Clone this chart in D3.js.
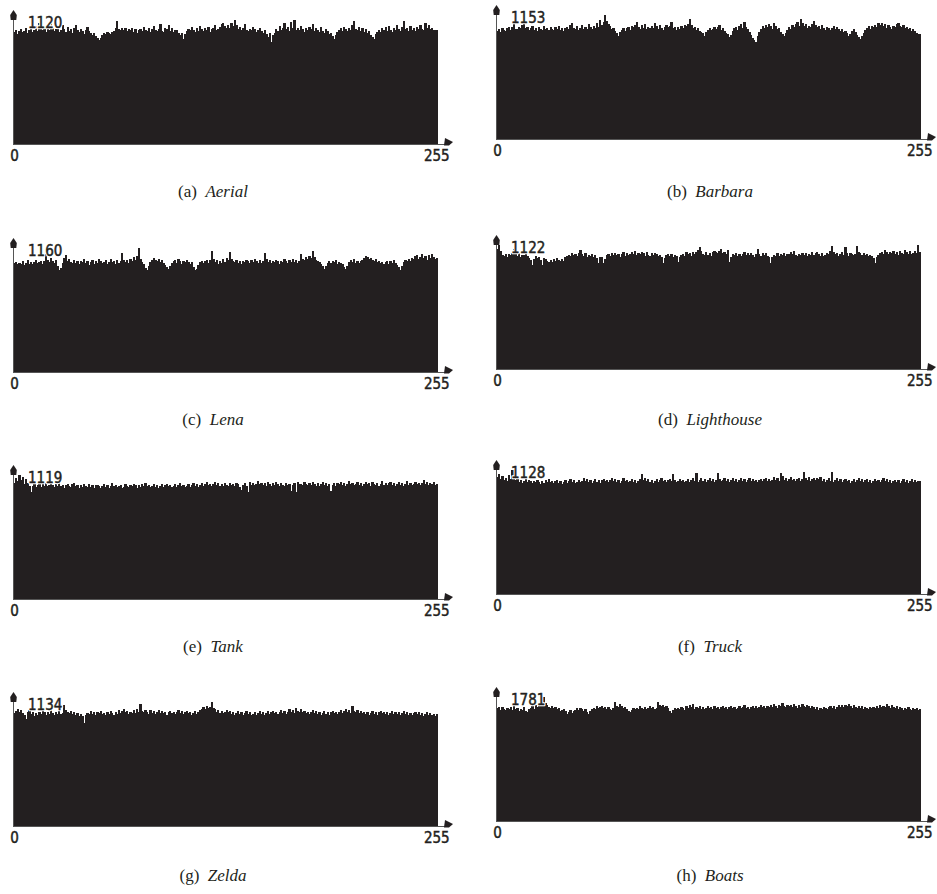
<!DOCTYPE html>
<html>
<head>
<meta charset="utf-8">
<script src="https://cdn.jsdelivr.net/npm/d3@7/dist/d3.min.js"></script>
<style>
  html, body { margin: 0; padding: 0; background: #fff; }
  svg { display: block; }
</style>
</head>
<body>
<svg id="chart" width="937" height="894"></svg>
<script>
// Grey-level histograms (256 bins) of the eight cipher images.
const panelLetters = ["a", "b", "c", "d", "e", "f", "g", "h"];
const imageNames = ["Aerial", "Barbara", "Lena", "Lighthouse", "Tank", "Truck", "Zelda", "Boats"];
const xTickLabels = ["0", "255"];

const aerial = [
  1012,1031,998,1024,1041,1008,1019,1052,1003,1027,1046,1015,1033,1068,1021,1094,
  1038,1026,1057,1012,1049,1030,1101,1044,1018,1035,1061,1009,1028,1072,1040,1016,
  1055,1023,1037,1003,1046,1079,1029,1011,1043,1025,996,1034,1058,1019,1007,988,
  1002,975,961,938,958,984,1006,997,1015,1003,992,1011,1024,1046,1114,1038,
  1029,1044,1033,1051,1022,1039,1026,1048,1015,1036,1003,1027,1043,1018,1059,1031,
  1024,1047,1012,1038,1066,1029,1017,1041,1083,1025,1009,1052,1036,1071,1020,1045,
  1013,1034,1028,1005,987,1001,947,990,1017,1042,1026,1054,1031,1009,1048,1023,
  1064,1037,1019,1045,1028,1057,1011,1035,1048,1072,1026,1042,1059,1083,1097,1068,
  1052,1076,1044,1089,1063,1118,1071,1035,1054,1026,1047,1082,1031,1019,1043,1028,
  1056,1038,1012,1027,1049,1021,1007,1034,995,968,1004,921,986,1003,1041,1017,
  1062,1029,1048,1093,1037,1058,1025,1104,1046,1120,1033,1051,1027,1068,1039,1014,
  1045,1026,1059,1037,1083,1021,1048,1032,1011,1057,1024,1006,1039,1018,992,1003,
  978,944,987,1012,1029,1046,1023,1061,1035,1018,1052,1027,1074,1109,1042,1031,
  1057,1024,1046,1013,1038,1002,1019,985,962,948,991,1008,1027,1015,1044,1029,
  1053,1021,1067,1034,1012,1048,1026,1079,1040,1018,1057,1112,1036,1049,1024,1063,
  1031,1047,1022,1058,1035,1071,1043,1026,1089,1052,1076,1038,1049,1027,1032,1029
];

const barbara = [
  1008,1021,997,1034,1016,1003,1029,1042,1011,1037,1078,1025,1019,1046,1032,1059,
  1071,1028,1043,1009,1036,1052,1017,1031,1004,1039,1026,1013,1048,1022,1035,1018,
  1041,1027,1012,1038,1024,1049,1015,1033,1006,1029,1044,1019,1057,1081,1036,1023,
  1047,1014,1032,1058,1025,1041,1019,1066,1037,1024,1052,1031,1075,1044,1103,1062,
  1089,1153,1096,1071,1048,1027,1036,1002,984,958,991,1012,1034,1005,1029,1046,
  1018,1053,1037,1064,1085,1041,1026,1057,1032,1071,1019,1044,1028,1053,1036,1079,
  1047,1022,1058,1031,1015,1046,1063,1037,1054,1091,1028,1043,1016,1039,1025,1050,
  1034,1062,1047,1073,1112,1056,1029,1041,1018,1032,1005,997,982,961,993,1014,
  1036,1009,1027,1045,1021,1038,1056,1013,1030,1002,987,974,951,968,1006,1029,
  1043,1018,1052,1067,1034,1084,1039,1021,993,968,942,917,902,955,996,1024,
  1047,1031,1059,1038,1072,1049,1026,1081,1054,1019,1035,994,972,961,988,1015,
  1039,1026,1058,1043,1069,1085,1052,1113,1076,1048,1067,1032,1054,1041,1071,1095,
  1062,1037,1049,1023,1058,1034,1016,1042,1028,1011,1036,1052,1019,1045,1027,1003,
  1021,998,1006,983,962,978,1001,1023,994,971,948,929,957,986,1012,1031,
  1048,1026,1053,1037,1061,1042,1074,1056,1083,1049,1067,1031,1058,1042,1026,1054,
  1039,1068,1079,1051,1037,1062,1028,1046,1019,1033,1008,1025,1003,987,979,972
];

const lena = [
  1018,1031,1007,1024,1012,1039,1003,1021,1046,1015,1028,1009,1033,1052,1019,1026,
  1041,1013,1036,1107,1048,1027,1062,1034,1019,1045,987,958,976,1021,1066,1098,
  1043,1058,1031,1024,1047,1019,1036,1011,1042,1028,1053,1017,1034,1004,1026,1049,
  1012,1035,1023,1058,1041,1019,1029,1046,1007,1032,1054,1025,1038,1013,1047,1021,
  1036,1109,1052,1027,1044,1018,1061,1039,1074,1048,1083,1160,1057,1032,1008,976,
  954,989,1026,1047,1062,1051,1038,1056,1029,1044,1016,1002,979,962,991,1018,
  1034,1047,1023,1059,1038,1014,1042,1026,1051,1033,1009,1029,983,957,968,1004,
  1027,1041,1019,1036,1052,1024,1046,1128,1061,1033,1047,1015,1039,1022,1054,1031,
  1068,1044,1119,1058,1037,1026,1049,1018,1035,1011,1043,1027,1052,1036,1019,1045,
  1029,1056,1034,1018,1047,1023,1041,1112,1055,1032,1048,1016,1039,1025,1051,1037,
  1014,1043,1028,1059,1036,1021,1047,1033,1056,1027,1044,1018,1038,1103,1061,1045,
  1072,1056,1084,1067,1131,1078,1052,1039,1026,1012,988,961,994,1023,1041,1018,
  1035,1027,1049,1014,1032,1021,1008,984,963,996,1029,1046,1033,1057,1024,1041,
  1019,1038,1052,1067,1081,1072,1058,1064,1049,1037,1056,1028,1043,1016,1032,1007,
  1026,1041,1013,1037,1024,1046,1019,1003,981,958,992,1027,1048,1035,1061,1042,
  1069,1053,1087,1096,1058,1074,1101,1062,1083,1047,1092,1065,1104,1078,1059,1071
];

const lighthouse = [
  1089,1122,1067,1031,1024,1038,1016,1042,1029,1051,1084,1037,1022,1046,1013,1034,
  1027,1049,1018,1005,983,941,996,1021,1008,1012,987,938,1003,991,978,972,
  985,969,991,977,1003,988,974,996,981,1012,1024,1036,1018,1047,1029,1041,
  1023,1052,1074,1039,1026,1048,1017,1035,1021,1043,1012,1028,1006,962,1014,1009,
  958,993,1027,1041,1019,1046,1033,1052,1028,1044,1017,1039,1056,1024,1048,1031,
  1037,1059,1043,1067,1029,1051,1038,1063,1047,1026,1055,1034,1019,1046,1028,1052,
  1041,1023,1036,1014,959,1008,1031,1045,1022,1039,1017,1034,1026,971,1012,1029,
  1043,1026,1058,1037,1049,1024,1062,1041,1055,1079,1101,1068,1043,1036,1057,1029,
  1046,1021,1062,1071,1058,1049,1067,1082,1054,1063,1038,1074,968,1017,1043,1031,
  1052,1026,1044,1019,1038,1057,1033,1046,1028,1051,1035,1017,1042,1086,1039,1025,
  1048,1031,1054,1022,1009,957,1013,1036,1024,1047,1018,1039,1029,1052,1026,1043,
  1037,1058,1041,1064,1032,1019,1045,1027,1053,1036,1048,1021,1044,1033,1057,1028,
  1049,1063,1038,1026,1047,1019,1034,1052,1041,1066,1113,1058,1037,1049,1024,1041,
  1055,1033,1106,1047,1026,1051,1038,1029,1044,1117,1062,1048,1031,1053,1027,1042,
  1019,1036,1024,1008,963,1011,1032,1047,1059,1041,1073,1055,1038,1062,1049,1071,
  1044,1058,1036,1066,1052,1041,1079,1057,1043,1064,1038,1052,1069,1047,1118,1063
];

const tank = [
  1047,1093,1068,1119,1074,1102,1039,1086,1051,1023,962,1017,1034,1008,1029,1041,
  1015,1038,1024,1046,1019,1033,1052,1027,1011,1036,1022,1044,1017,1031,1005,1028,
  1039,1021,1013,1034,1047,1018,1026,1003,1032,1015,1041,1024,1009,1037,1012,1028,
  1006,1025,1033,1017,998,1021,1036,1011,1029,1004,1022,1043,1016,1031,1008,1019,
  1027,1002,1014,1038,1021,1009,1033,1018,1041,1025,1006,1029,1013,1035,1022,1047,
  1016,1032,1008,1024,1039,1011,1027,1003,1019,1036,1014,1028,1042,1017,1031,1009,
  1023,1038,1012,1026,1045,1019,1033,1007,1024,1039,1015,1031,1048,1022,1036,1013,
  1029,1044,1018,1035,1057,1026,1041,1019,1034,1052,1027,1043,1016,1038,1024,1049,
  1033,1018,1046,1027,1039,1022,1051,1035,1012,984,1028,1044,1021,962,1058,1031,
  1046,1025,1039,1061,1034,1048,1027,1043,1019,1052,1036,1024,1045,1029,1056,1038,
  1021,1044,1032,1017,1049,1026,1038,973,1031,1047,968,1055,1036,1042,1028,1053,
  1037,1026,1049,1033,1058,1041,1024,1046,1019,1035,1052,1028,1044,1017,1039,978,
  1032,1051,1024,1043,1036,1057,1029,1046,1018,1038,1062,1035,1049,1027,1041,1054,
  1031,1047,1023,1039,1058,1034,1045,1022,1053,1036,1029,1048,1017,1041,1066,1033,
  1048,1027,1043,1059,1031,1046,1024,1038,1055,1029,1044,1019,1037,1061,1033,1046,
  1025,1042,1058,1034,1049,1026,1043,1071,1037,1052,1028,1045,1039,1056,1031,1038
];

const truck = [
  1061,1089,1043,1074,1038,1056,1027,1081,1049,1128,1062,1034,1047,1019,1036,1011,
  1028,1043,1016,1035,1024,1009,1031,1018,1040,1022,1004,1027,1013,1036,1021,1045,
  1017,1032,1008,1026,1041,1014,1029,1003,1022,1037,1011,1025,1048,1019,1034,1006,
  1023,1039,1015,1031,1052,1024,1043,1018,1036,1009,1027,1045,1021,1038,1014,1033,
  1046,1025,1041,1017,1034,1059,1028,1044,1021,1037,1012,1029,1051,1026,1039,1016,
  1032,1048,1023,1036,1014,1028,1043,1095,1035,1057,1031,1046,1022,1038,1011,1029,
  1044,1021,1037,1053,1026,1041,1018,1034,1049,1027,1093,1038,1015,1032,1046,1024,
  1039,1017,1031,1048,1022,1036,1054,1029,1098,1018,1035,1051,1026,1042,1019,1037,
  1053,1028,1044,1021,1039,1104,1047,1025,1038,1056,1031,1046,1022,1035,1051,1027,
  1042,1019,1036,1053,1028,1045,1021,1038,1057,1032,1047,1025,1041,1018,1034,1049,
  1026,1043,1058,1031,1047,1024,1039,1062,1035,1051,1028,1101,1069,1037,1053,1029,
  1046,1061,1034,1049,1027,1043,1058,1032,1047,1112,1054,1038,1061,1029,1045,1052,
  1036,1058,1042,1065,1031,1047,1023,1039,1054,1028,1106,1019,1037,1051,1026,1042,
  1018,1035,1049,1024,1038,1013,1031,1046,1022,1037,1054,1029,1043,1016,1034,1048,
  1023,1039,1014,1031,1047,1025,1041,1018,1033,1052,1027,1044,1021,1036,1012,1029,
  1041,1017,1034,1008,1026,1043,1019,1035,1011,1028,1045,1022,1038,1015,1031,1024
];

const zelda = [
  1031,1052,1067,1043,1058,1029,1014,983,1038,1061,1027,1045,1009,1036,1018,1047,
  1024,1053,1039,1016,1044,1028,1057,1033,1012,1041,1026,1049,1022,1037,1104,1062,
  1046,1031,1054,1027,1043,1018,1036,1009,1028,1003,941,1012,1034,1021,1048,1026,
  1039,1015,1044,1029,1053,1022,1037,1011,1046,1028,1051,1034,1019,1043,1026,1057,
  1033,1048,1069,1041,1055,1028,1046,1037,1059,1032,1071,1045,1113,1056,1039,1062,
  1044,1027,1058,1036,1049,1023,1041,1064,1035,1052,1029,1046,1018,1039,1055,1031,
  1047,1026,1042,1061,1034,1049,1021,1038,1056,1031,1044,1017,1036,1052,1028,1043,
  1059,1072,1088,1068,1097,1076,1091,1134,1083,1066,1045,1058,1037,1051,1029,1046,
  1063,1038,1054,1027,1043,1019,1036,1051,1024,1042,1015,1033,1048,1021,1039,1011,
  1028,1045,1018,1036,1052,1027,1041,1014,1033,1049,1023,1038,1056,1031,1047,1025,
  1042,1061,1034,1053,1028,1046,1069,1039,1057,1032,1078,1051,1044,1066,1038,1055,
  1029,1047,1023,1041,1058,1034,1049,1026,1043,1017,1036,1052,1027,1044,1019,1038,
  1054,1031,1046,1022,1039,1057,1033,1048,1072,1043,1061,1036,1094,1052,1041,1063,
  1037,1055,1029,1046,1023,1042,1016,1034,1051,1026,1043,1019,1038,1054,1031,1047,
  1025,1041,1017,1035,1052,1028,1044,1021,1039,1013,1032,1048,1024,1042,1018,1036,
  1011,1029,1046,1022,1038,1014,1031,1007,1026,1043,1019,1035,1012,1028,1004,1021
];

const boats = [
  1618,1642,1597,1631,1605,1589,1624,1611,1637,1593,1652,1608,1626,1584,1613,1599,
  1634,1587,1571,1602,1619,1646,1613,1667,1632,1658,1689,1703,1781,1697,1664,1641,
  1628,1653,1617,1639,1606,1624,1583,1597,1612,1576,1541,1569,1593,1558,1582,1601,
  1618,1597,1623,1605,1587,1612,1559,1536,1574,1603,1628,1611,1647,1619,1636,1653,
  1622,1644,1608,1631,1615,1592,1627,1712,1658,1631,1674,1647,1619,1638,1603,1582,
  1567,1596,1618,1603,1629,1611,1647,1622,1605,1638,1614,1626,1653,1619,1642,1608,
  1625,1706,1671,1646,1668,1637,1652,1629,1581,1554,1597,1618,1603,1627,1612,1639,
  1616,1601,1648,1624,1659,1631,1678,1613,1642,1628,1657,1614,1635,1607,1623,1646,
  1619,1634,1608,1652,1627,1641,1613,1638,1654,1621,1643,1609,1631,1648,1617,1636,
  1604,1627,1645,1618,1633,1659,1624,1641,1612,1635,1656,1628,1647,1619,1638,1661,
  1632,1649,1622,1658,1637,1664,1641,1676,1653,1629,1668,1645,1691,1657,1634,1672,
  1648,1663,1639,1684,1656,1627,1661,1643,1678,1652,1631,1669,1646,1623,1655,1638,
  1611,1634,1596,1627,1608,1641,1619,1603,1632,1657,1626,1648,1615,1639,1667,1642,
  1659,1633,1671,1648,1686,1652,1629,1664,1641,1619,1653,1627,1645,1612,1637,1626,
  1608,1631,1617,1644,1623,1652,1629,1668,1641,1657,1634,1679,1648,1625,1662,1639,
  1621,1647,1611,1636,1618,1592,1624,1603,1637,1614,1599,1628,1607,1619,1596,1611
];

const histograms = [aerial, barbara, lena, lighthouse, tank, truck, zelda, boats];

// ---- layout ----
const svg = d3.select("#chart");
const INK = "#231f20";
const plotW = 424;      // width of the 256 bars
const barH = 124;       // pixel height of the tallest bar
const axisH = 134;      // vertical axis length
const origins = [
  { x: 13,  y: 144 }, { x: 496, y: 139 },
  { x: 13,  y: 372 }, { x: 496, y: 369 },
  { x: 13,  y: 599 }, { x: 496, y: 594 },
  { x: 13,  y: 826 }, { x: 496, y: 821 }
];
const captionY = [197, 197, 425, 425, 652, 652, 881, 881];
const captionX = [213, 710];
const tickFont = "'DejaVu Sans Condensed', 'DejaVu Sans', sans-serif";

// tick digits: condensed sans, thickened slightly with a hairline stroke
function tickText(sel) {
  return sel
    .attr("font-family", tickFont)
    .attr("font-stretch", "condensed")
    .attr("font-size", 15)
    .attr("fill", INK)
    .attr("stroke", INK)
    .attr("stroke-width", 0.45);
}

histograms.forEach((values, p) => {
  const o = origins[p];
  const g = svg.append("g");
  const bins = d3.range(values.length);
  const peak = d3.max(values);

  const x = d3.scaleBand().domain(bins).range([o.x + 0.5, o.x + 0.5 + plotW]).padding(0);
  const y = d3.scaleLinear().domain([0, peak]).range([o.y, o.y - barH]);

  // bars
  g.append("g").attr("shape-rendering", "crispEdges")
    .selectAll("rect").data(values).join("rect")
    .attr("x", (d, i) => x(i))
    .attr("y", d => y(d))
    .attr("width", x.bandwidth() + 0.6)
    .attr("height", d => y(0) - y(d))
    .attr("fill", INK);

  // axes with arrow heads
  const xEnd = o.x + plotW + 16;
  const yTop = o.y - axisH;
  g.append("line")
    .attr("x1", o.x).attr("x2", xEnd - 4)
    .attr("y1", y(0) + 0.5).attr("y2", y(0) + 0.5)
    .attr("stroke", "#555").attr("stroke-width", 1);
  g.append("line")
    .attr("x1", o.x + 0.5).attr("x2", o.x + 0.5)
    .attr("y1", y(0)).attr("y2", yTop + 4)
    .attr("stroke", "#555").attr("stroke-width", 1);
  g.append("path")
    .attr("d", `M${o.x + 0.5},${yTop} L${o.x + 3.8},${yTop + 5} L${o.x + 3.3},${yTop + 10} L${o.x - 2.3},${yTop + 10} L${o.x - 2.8},${yTop + 5} Z`)
    .attr("fill", INK);
  g.append("path")
    .attr("d", `M${xEnd},${y(0) - 2} L${xEnd - 8},${y(0) - 6} L${xEnd - 9},${y(0) + 1.5} L${xEnd - 4},${y(0) + 1.5} Z`)
    .attr("fill", INK);

  // tick labels at both ends of the grey-level axis
  g.append("text")
    .attr("x", x(0) + 1).attr("y", o.y + 17)
    .attr("text-anchor", "middle")
    .call(tickText)
    .text(xTickLabels[0]);
  g.append("text")
    .attr("x", x(values.length - 1) + 1).attr("y", o.y + 17)
    .attr("text-anchor", "middle")
    .call(tickText)
    .text(xTickLabels[1]);

  // peak count: white halo underneath so it stays legible over the bars
  g.append("text")
    .attr("x", o.x + 15).attr("y", o.y - 116)
    .call(tickText)
    .attr("stroke", "#fff").attr("stroke-width", 2.6)
    .attr("stroke-linejoin", "round")
    .text(peak);
  g.append("text")
    .attr("x", o.x + 15).attr("y", o.y - 116)
    .call(tickText)
    .text(peak);

  // caption
  const cap = svg.append("text")
    .attr("x", captionX[p % 2]).attr("y", captionY[p])
    .attr("text-anchor", "middle")
    .attr("font-family", "'Liberation Serif', 'DejaVu Serif', serif")
    .attr("font-size", 17)
    .attr("fill", INK);
  cap.append("tspan").text(`(${panelLetters[p]})\u2002`);
  cap.append("tspan").attr("font-style", "italic").text(imageNames[p]);
});
</script>
</body>
</html>
